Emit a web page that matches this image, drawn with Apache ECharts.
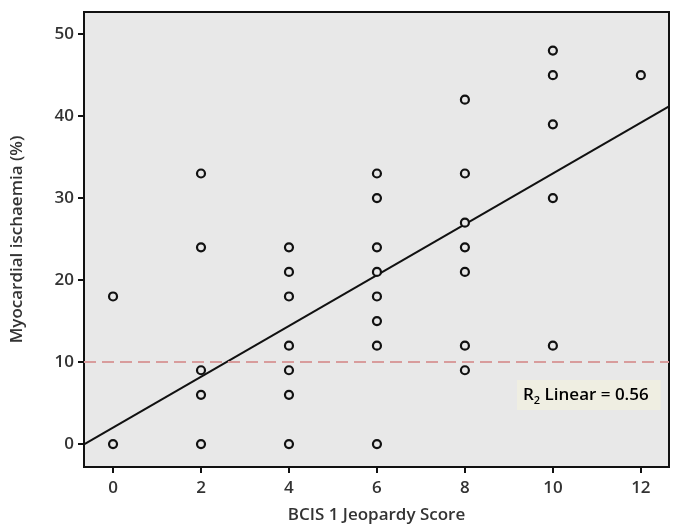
<!DOCTYPE html>
<html>
<head>
<meta charset="utf-8">
<script src="https://cdn.jsdelivr.net/npm/echarts@6/dist/echarts.min.js"></script>
<style>
  html, body { margin: 0; padding: 0; background: #fff; }
  #chart { width: 675px; height: 524px; }
</style>
</head>
<body>
<div id="chart"></div>
<script>
// BCIS 1 jeopardy score vs myocardial ischaemia (%)
const jeopardy = [0, 0,
  2, 2, 2, 2, 2,
  4, 4, 4, 4, 4, 4, 4,
  6, 6, 6, 6, 6, 6, 6, 6,
  8, 8, 8, 8, 8, 8, 8,
  10, 10, 10, 10, 10,
  12]
const ischaemia = [18, 0,
  33, 24, 9, 6, 0,
  24, 21, 18, 12, 9, 6, 0,
  33, 30, 24, 21, 18, 15, 12, 0,
  42, 33, 27, 24, 21, 12, 9,
  48, 45, 39, 30, 12,
  45]
const xTicks = [0, 2, 4, 6, 8, 10, 12]
const yTicks = [0, 10, 20, 30, 40, 50]
// linear fit
const fitIntercept = 2.0
const fitSlope = 3.1
const threshold = 10
const xMin = -0.66
const xMax = 12.64
const yMin = -2.8
const yMax = 52.7

const font = 'Open Sans'
const chart = echarts.init(document.getElementById('chart'))

const points = jeopardy.map((x, i) => [x, ischaemia[i]])
const fitLine = [xMin, xMax].map(x => [x, fitIntercept + fitSlope * x])

const inkStyle = { color: '#111', width: 2 }

const option = {
  animation: false,
  grid: {
    left: 84,
    top: 12,
    width: 585,
    height: 455,
    outerBoundsMode: 'none',
    containLabel: false,
    show: true,
    backgroundColor: '#e8e8e8',
    borderColor: '#111',
    borderWidth: 2
  },
  xAxis: {
    type: 'value',
    min: xMin,
    max: xMax,
    name: 'BCIS 1 Jeopardy Score',
    nameLocation: 'middle',
    nameGap: 40,
    nameTextStyle: { fontFamily: font, fontSize: 17, fontWeight: 600, color: '#333' },
    axisLine: { show: true, onZero: false, lineStyle: inkStyle },
    splitLine: { show: false },
    axisTick: {
      show: true,
      inside: false,
      customValues: xTicks,
      length: 6,
      lineStyle: inkStyle
    },
    axisLabel: {
      customValues: xTicks,
      margin: 13,
      fontFamily: font,
      fontSize: 17,
      fontWeight: 600,
      color: '#333'
    }
  },
  yAxis: {
    type: 'value',
    min: yMin,
    max: yMax,
    name: 'Myocardial ischaemia (%)',
    nameLocation: 'middle',
    nameGap: 58,
    nameTextStyle: { fontFamily: font, fontSize: 17, fontWeight: 600, color: '#333' },
    axisLine: { show: true, onZero: false, lineStyle: inkStyle },
    splitLine: { show: false },
    axisTick: {
      show: true,
      inside: false,
      customValues: yTicks,
      length: 6,
      lineStyle: inkStyle
    },
    axisLabel: {
      customValues: yTicks,
      margin: 10,
      fontFamily: font,
      fontSize: 17,
      fontWeight: 600,
      color: '#333'
    }
  },
  series: [
    {
      type: 'line',
      data: fitLine,
      symbol: 'none',
      silent: true,
      lineStyle: { color: '#111', width: 2 },
      markLine: {
        silent: true,
        symbol: 'none',
        label: { show: false },
        lineStyle: { color: '#d89c9c', width: 2, type: [12, 6] },
        data: [{ yAxis: threshold }]
      },
      z: 2
    },
    {
      type: 'scatter',
      data: points,
      symbol: 'circle',
      symbolSize: 8,
      itemStyle: { color: '#e8e8e8', borderColor: '#111', borderWidth: 2.2, opacity: 1 },
      z: 3
    }
  ],
  graphic: [
    {
      type: 'text',
      left: 517,
      top: 380,
      z: 10,
      style: {
        text: '{b|R}{s|2}{b| Linear = 0.56}',
        backgroundColor: '#efeee2',
        padding: [4, 12, 4, 6],
        rich: {
          b: { fontFamily: font, fontSize: 17, fontWeight: 600, color: '#222', lineHeight: 22 },
          s: { fontFamily: font, fontSize: 11, fontWeight: 600, color: '#222', lineHeight: 22, padding: [11, 0, 0, 0] }
        }
      }
    }
  ]
}

chart.setOption(option)
</script>
</body>
</html>
